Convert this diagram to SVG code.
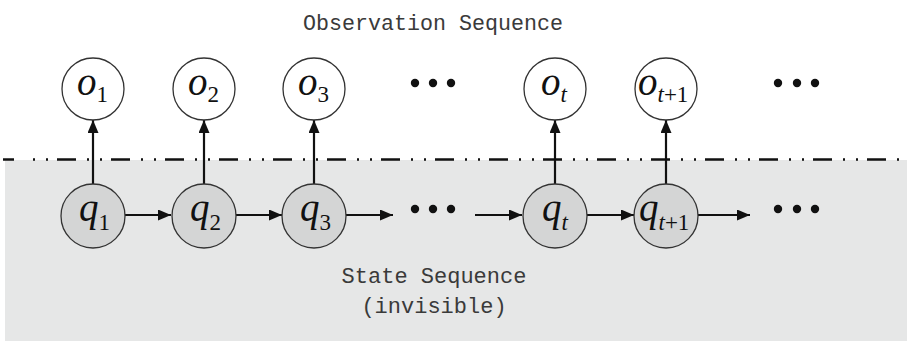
<svg xmlns="http://www.w3.org/2000/svg" width="907" height="341" viewBox="0 0 907 341">
<style>
.title{font-family:"Liberation Mono",monospace;font-size:22px;fill:#3a3a3a;text-anchor:middle}
.m{font-family:"Liberation Serif",serif;font-style:italic;font-size:39px;fill:#111}
.s{font-size:23px}
.u{font-style:normal}
.obs{fill:#fff;stroke:#333;stroke-width:1.3}
.st{fill:#d4d5d5;stroke:#333;stroke-width:1.3}
.c{stroke:#111;stroke-width:2.2;fill:none}
.dot{fill:#111}
</style>
<defs>
<marker id="ah" viewBox="0 0 13 11" refX="13" refY="5.5" markerWidth="13" markerHeight="11" markerUnits="userSpaceOnUse" orient="auto">
<path d="M0,0 L13,5.5 L0,11 Z" fill="#111"/>
</marker>
</defs>
<rect x="5" y="160" width="902" height="181" fill="#e6e7e7"/>
<line x1="3" y1="159.5" x2="14" y2="159.5" stroke="#111" stroke-width="2.5"/>
<line x1="33" y1="159.5" x2="907" y2="159.5" stroke="#111" stroke-width="2.5" stroke-dasharray="2 11 2 9 19 11"/>
<text class="title" x="433" y="30" textLength="260" lengthAdjust="spacingAndGlyphs">Observation Sequence</text>
<text class="title" x="434" y="283">State Sequence</text>
<text class="title" x="434" y="313">(invisible)</text>
<g id="connectors">
<line class="c" x1="93" y1="184" x2="93" y2="120" marker-end="url(#ah)"/>
<line class="c" x1="204" y1="184" x2="204" y2="120" marker-end="url(#ah)"/>
<line class="c" x1="314" y1="184" x2="314" y2="120" marker-end="url(#ah)"/>
<line class="c" x1="555" y1="184" x2="555" y2="120" marker-end="url(#ah)"/>
<line class="c" x1="666" y1="184" x2="666" y2="120" marker-end="url(#ah)"/>
<line class="c" x1="125" y1="215" x2="171" y2="215" marker-end="url(#ah)"/>
<line class="c" x1="236" y1="215" x2="282" y2="215" marker-end="url(#ah)"/>
<line class="c" x1="346" y1="215" x2="393" y2="215" marker-end="url(#ah)"/>
<line class="c" x1="475" y1="215" x2="522" y2="215" marker-end="url(#ah)"/>
<line class="c" x1="587" y1="215" x2="634" y2="215" marker-end="url(#ah)"/>
<line class="c" x1="698" y1="215" x2="750" y2="215" marker-end="url(#ah)"/>
</g>
<g id="o1"><circle class="obs" cx="93" cy="89" r="31"/><text class="m" x="77" y="95">o<tspan class="s u" dy="7">1</tspan></text></g>
<g id="o2"><circle class="obs" cx="204" cy="89" r="31"/><text class="m" x="188" y="95">o<tspan class="s u" dy="7">2</tspan></text></g>
<g id="o3"><circle class="obs" cx="314" cy="89" r="31"/><text class="m" x="298" y="95">o<tspan class="s u" dy="7">3</tspan></text></g>
<g id="ot"><circle class="obs" cx="555" cy="89" r="31"/><text class="m" x="541" y="95">o<tspan class="s" dy="7">t</tspan></text></g>
<g id="ot1"><circle class="obs" cx="666" cy="89" r="31"/><text class="m" x="638" y="95">o<tspan class="s" dy="7">t</tspan><tspan class="s u">+1</tspan></text></g>
<g id="dots-top-1"><circle class="dot" cx="415" cy="83" r="4.2"/><circle class="dot" cx="433" cy="83" r="4.2"/><circle class="dot" cx="451" cy="83" r="4.2"/></g>
<g id="dots-top-2"><circle class="dot" cx="778" cy="83" r="4.2"/><circle class="dot" cx="797" cy="83" r="4.2"/><circle class="dot" cx="815" cy="83" r="4.2"/></g>
<g id="q1"><circle class="st" cx="93" cy="216" r="32"/><text class="m" x="79" y="221">q<tspan class="s u" dy="9">1</tspan></text></g>
<g id="q2"><circle class="st" cx="204" cy="216" r="32"/><text class="m" x="190" y="221">q<tspan class="s u" dy="9">2</tspan></text></g>
<g id="q3"><circle class="st" cx="314" cy="216" r="32"/><text class="m" x="300" y="221">q<tspan class="s u" dy="9">3</tspan></text></g>
<g id="qt"><circle class="st" cx="555" cy="216" r="32"/><text class="m" x="542" y="221">q<tspan class="s" dy="9">t</tspan></text></g>
<g id="qt1"><circle class="st" cx="666" cy="216" r="32"/><text class="m" x="639" y="221">q<tspan class="s" dy="9">t</tspan><tspan class="s u">+1</tspan></text></g>
<g id="dots-bot-1"><circle class="dot" cx="415" cy="209" r="4.2"/><circle class="dot" cx="433" cy="209" r="4.2"/><circle class="dot" cx="451" cy="209" r="4.2"/></g>
<g id="dots-bot-2"><circle class="dot" cx="778" cy="209" r="4.2"/><circle class="dot" cx="797" cy="209" r="4.2"/><circle class="dot" cx="815" cy="209" r="4.2"/></g>
</svg>
